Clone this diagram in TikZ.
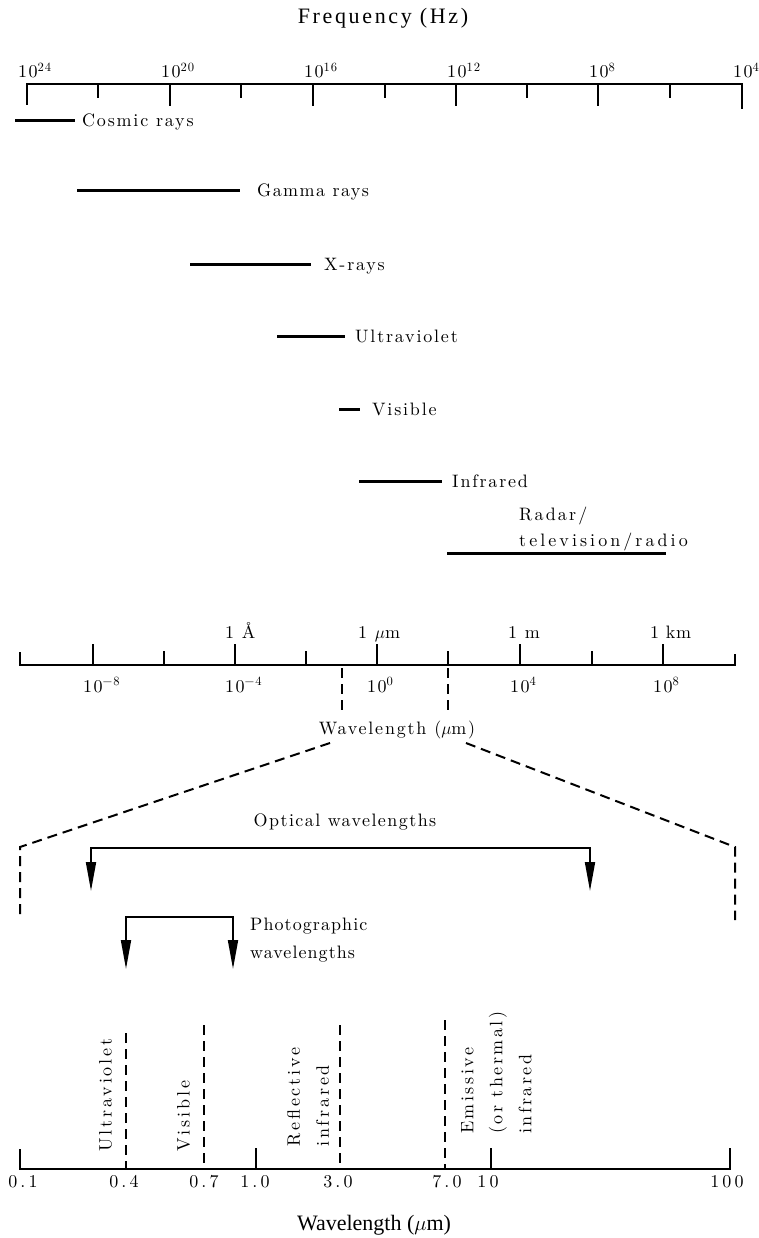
\documentclass[tikz,border=0pt]{standalone}
\usepackage{fontspec}
\setmainfont{lmroman10-regular.otf}[BoldFont=lmroman10-bold.otf,ItalicFont=lmroman10-italic.otf]
\usetikzlibrary{arrows.meta}
\newfontfamily\titlefont{Liberation Serif}
\tikzset{
  lab/.style={inner sep=0pt, font={\fontsize{18}{29}\selectfont\addfontfeature{LetterSpace=#1}}},
  lab/.default=10,
  ttl/.style={inner sep=0pt, font={\titlefont\fontsize{22}{25}\selectfont\addfontfeature{LetterSpace=#1}}},
  ttl/.default=0,
  axis/.style={line width=1.8pt},
  bar/.style={line width=3pt},
  dsh/.style={line width=2pt, dash pattern=on 10pt off 6pt},
  brk/.style={line width=1.8pt, -{Triangle[length=29pt,width=10pt]}},
}
\begin{document}
\begin{tikzpicture}[x=1pt,y=-1pt]
\useasboundingbox (0,0) rectangle (759,1238);
% ---------- frequency axis
\node[ttl=12] (freq) at (383,18) {Frequency (Hz)};
\draw[axis] (27,105) -- (27,84) -- (742,84) -- (742,109);
\foreach \x in {170,313,456,598} \draw[axis] (\x,84) -- (\x,106);
\foreach \x in {98,241,385,527,670} \draw[axis] (\x,84) -- (\x,98);
\foreach \x/\e in {27/24,170/20,313/16,456/12,598/8,742/4}
  \node[lab=8, anchor=base west] (f\e) at (\x-9,78) {10\textsuperscript{\e}};
% ---------- bands
\draw[bar] (15,121) -- (75,121);
\node[lab, anchor=base west] (cosmic) at (82,127) {Cosmic rays};
\draw[bar] (77,191) -- (240,191);
\node[lab=8, anchor=base west] (gamma) at (257,197) {Gamma rays};
\draw[bar] (190,265) -- (311,265);
\node[lab, anchor=base west] (xray) at (324,271) {X-rays};
\draw[bar] (277,336) -- (345,336);
\node[lab, anchor=base west] (uv) at (355,342) {Ultraviolet};
\draw[bar] (339,409) -- (360,409);
\node[lab, anchor=base west] (vis) at (372,415) {Visible};
\draw[bar] (359,481) -- (442,481);
\node[lab, anchor=base west] (ir) at (452,487) {Infrared};
\draw[bar] (447,553) -- (666,553);
\node[lab=12, anchor=base west] (radar) at (519,520) {Radar/};
\node[lab=17, anchor=base west] (tv) at (519,546) {television/radio};
% ---------- wavelength axis
\draw[axis] (20,652) -- (20,665) -- (735,665) -- (735,654);
\foreach \x in {93,235,377,520,663} \draw[axis] (\x,665) -- (\x,644);
\foreach \x in {164,306,448,592} \draw[axis] (\x,665) -- (\x,651);
\node[lab, anchor=base west] (ang) at (225,638) {1 Å};
\node[lab, anchor=base west] (um) at (358,638) {1 $\mu$m};
\node[lab, anchor=base west] (m) at (508,638) {1 m};
\node[lab=4, anchor=base west] (km) at (650,638) {1 km};
\foreach \x/\e [count=\i] in {93/−8,235/−4,377/0,520/4,663/8}
  \node[lab=8, anchor=base west] (w\i) at (\x-10,692) {10\textsuperscript{\e}};
\draw[dsh] (342,668) -- (342,712);
\draw[dsh] (448,668) -- (448,712);
\node[lab, anchor=base] (wl) at (397,734) {Wavelength ($\mu$m)};
% ---------- expansion
\coordinate (lt) at (330,743);
\coordinate (lc) at (20,847);
\coordinate (lb) at (20,920);
\coordinate (rt) at (466,743);
\coordinate (rc) at (735,847);
\coordinate (rb) at (735,920);
\draw[dsh] (lt) -- (lc) -- (lb);
\draw[dsh] (rt) -- (rc) -- (rb);
% ---------- optical
\node[lab=8] (opt) at (345,822) {Optical wavelengths};
\coordinate (o1) at (91,891);
\coordinate (o2) at (590,891);
\draw[brk] (591,848) -- (91,848) -- (o1);
\draw[brk] (590,848) -- (o2);
% ---------- photographic
\node[lab=6, anchor=base west] (photo) at (250,930) {Photographic};
\node[lab=6, anchor=base west] (photo2) at (250,958) {wavelengths};
\coordinate (p1) at (126,969);
\coordinate (p2) at (233,969);
\draw[brk] (234,917) -- (126,917) -- (p1);
\draw[brk] (233,917) -- (p2);
% ---------- bottom axis
\draw[axis] (20,1149) -- (20,1169) -- (730,1169) -- (730,1148);
\foreach \x in {256,491} \draw[axis] (\x,1169) -- (\x,1148);
\draw[dsh] (126,1033) -- (126,1169);
\draw[dsh] (204,1025) -- (204,1169);
\draw[dsh] (340,1025) -- (340,1169);
\draw[dsh] (445,1020) -- (445,1169);
\foreach \x/\t [count=\i] in {23/0.1,124/0.4,204/0.7,255/1.0,338/3.0,447/7.0,488/10,727/100}
  \node[lab=18, anchor=base] (b\i) at (\x,1187) {\t};
\node[lab=16, rotate=90, anchor=north west] (luv) at (99,1152) {Ultraviolet};
\node[lab=16, rotate=90, anchor=north west] (lvis) at (177,1152) {Visible};
\node[lab=16, rotate=90, anchor=north west, align=left] (lref) at (287,1147) {Reflective\\infrared};
\node[lab=14, rotate=90, anchor=north west, align=left] (lemi) at (461,1134) {Emissive\\(or thermal)\\infrared};
\node[ttl, anchor=base] (wlb) at (374,1230) {Wavelength ($\mu$m)};
\end{tikzpicture}
\end{document}
